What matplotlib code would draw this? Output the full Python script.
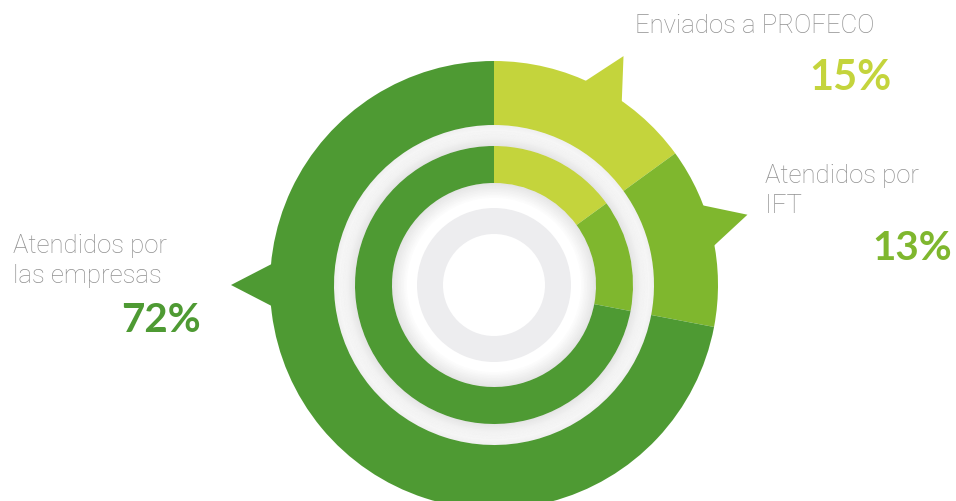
import matplotlib.pyplot as plt
from matplotlib.patches import Polygon, Wedge
import numpy as np

# Dados
rotulos = ['Enviados a PROFECO', 'Atendidos por\nIFT', 'Atendidos por\nlas empresas']
valores = [15, 13, 72]
cores = ['#C4D43C', '#7FB72E', '#4E9A33']

fig = plt.figure(figsize=(9.56, 5.02), dpi=100)
ax = fig.add_axes([0, 0, 1, 1])

cx, cy = 494, 216  # centro em pixels (y para cima)

# anel externo e anel interno
ax.pie(valores, colors=cores, radius=224, center=(cx, cy), startangle=90,
       counterclock=False, wedgeprops=dict(width=64, linewidth=0))
ax.pie(valores, colors=cores, radius=139, center=(cx, cy), startangle=90,
       counterclock=False, wedgeprops=dict(width=37, linewidth=0))

# sombras suaves
for i in range(10):
    a = 0.010 * (10 - i)
    ax.add_patch(Wedge((cx, cy), 139 + 1.5 * (i + 1), 0, 360, width=1.5, color='k', alpha=a, lw=0))
    ax.add_patch(Wedge((cx, cy), 102 - 1.5 * i, 0, 360, width=1.5, color='k', alpha=a, lw=0))
    ax.add_patch(Wedge((cx, cy), 160 - 1.2 * i, 0, 360, width=1.2, color='k', alpha=a * 0.6, lw=0))

# anel cinza central
ax.add_patch(Wedge((cx, cy), 77, 0, 360, width=26, color='#EDEDEF', lw=0))

# setas triangulares
angulos_seta = [29.5, 74.5, 270]
for ang, cor in zip(angulos_seta, cores):
    pts = []
    for a, r in [(ang - 6.3, 218), (ang, 263), (ang + 6.3, 218)]:
        t = np.radians(90 - a)
        pts.append((cx + r * np.cos(t), cy + r * np.sin(t)))
    ax.add_patch(Polygon(pts, closed=True, color=cor, lw=0))

# textos
cinza = '#909090'
fam = ['Roboto', 'DejaVu Sans']
fam_num = ['Lato', 'DejaVu Sans']
ax.text(635, 469, rotulos[0], fontsize=18.5, color=cinza, family=fam, weight='light')
ax.text(892, 412, '15%', fontsize=30, color=cores[0], family=fam_num, weight='bold', ha='right')

l1, l2 = rotulos[1].split('\n')
ax.text(765, 319, l1, fontsize=18.5, color=cinza, family=fam, weight='light')
ax.text(765, 289, l2, fontsize=18.5, color=cinza, family=fam, weight='light')
ax.text(952, 242, '13%', fontsize=29, color=cores[1], family=fam_num, weight='bold', ha='right')

l1, l2 = rotulos[2].split('\n')
ax.text(13, 249, l1, fontsize=18.5, color=cinza, family=fam, weight='light')
ax.text(13, 219, l2, fontsize=18.5, color=cinza, family=fam, weight='light')
ax.text(201, 170, '72%', fontsize=29, color=cores[2], family=fam_num, weight='bold', ha='right')

ax.set_xlim(0, 956)
ax.set_ylim(0, 502)
ax.set_aspect('equal')
ax.axis('off')

plt.savefig('out.png', dpi=100)
